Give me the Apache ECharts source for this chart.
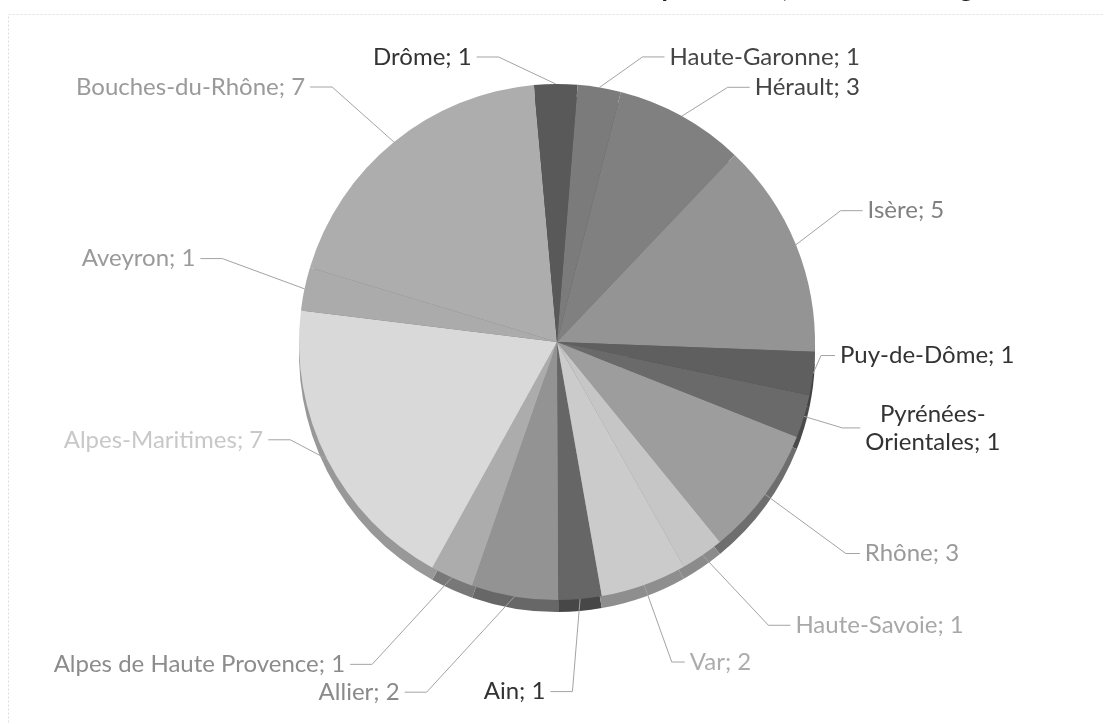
<!DOCTYPE html>
<html><head><meta charset="utf-8">
<script src="https://cdn.jsdelivr.net/npm/echarts@6/dist/echarts.min.js"></script>
<style>html,body{margin:0;padding:0;background:#fff;}#c{width:1104px;height:724px;}</style>
</head><body><div id="c"></div>
<script>
// ---- data ----
const departments = ['Ain','Allier','Alpes de Haute Provence','Alpes-Maritimes','Aveyron','Bouches-du-Rhône','Drôme','Haute-Garonne','Hérault','Isère','Puy-de-Dôme','Pyrénées-Orientales','Rhône','Haute-Savoie','Var'];
const counts = [1,2,1,7,1,7,1,1,3,5,1,1,3,1,2];
const titleText = 'Département, nombre de stagiaires';

// ---- styling ----
const sliceColors = ['#666666','#939393','#acacac','#d9d9d9','#ababab','#adadad','#595959','#7b7b7b','#808080','#949494','#5f5f5f','#6a6a6a','#9d9d9d','#c6c6c6','#cbcbcb'];
const labelColors = ['#333333','#8a8a8a','#8c8c8c','#c8c8c8','#9a9a9a','#9a9a9a','#333333','#444444','#444444','#808080','#333333','#333333','#9a9a9a','#a8a8a8','#acacac'];
const lineLen  = [93,97,95,10,40,71,27,31,33,45,8,40,100,85,82];
const lineLen2 = [38,94,63,50,65,39,79,60,52,25,14,18,14,40,13];
const nudgeY   = [0,0,0,-24,-22,0,0,0,0,-17,-19,0,0,0,0];
const flipLeft = [true,false,false,false,false,false,true,false,false,false,false,false,false,false,false];
const wrapLabel = [false,false,false,false,false,false,false,false,false,false,false,true,false,false,false];
const stubLen = 22;

function darken(hex, f) {
  const v = parseInt(hex.slice(1), 16);
  const r = Math.round(((v >> 16) & 255) * f), g = Math.round(((v >> 8) & 255) * f), b = Math.round((v & 255) * f);
  return 'rgb(' + r + ',' + g + ',' + b + ')';
}

const chart = echarts.init(document.getElementById('c'), null, {renderer:'canvas'});
const center = [557, 342];
const radius = 258;
const startAngle = -80;

const topData = departments.map((n, i) => ({
  name: n, value: counts[i],
  itemStyle: { color: sliceColors[i] },
  label: { color: labelColors[i] },
  labelLine: { length: lineLen[i], length2: lineLen2[i] }
}));
const rimData = departments.map((n, i) => ({
  name: n, value: counts[i],
  itemStyle: { color: darken(sliceColors[i], 0.7) }
}));

chart.setOption({
  backgroundColor: '#ffffff',
  animation: false,
  graphic: [
    { type: 'rect', shape: { x: 8.5, y: 14.5, width: 1200, height: 800 }, style: { fill: 'none', stroke: '#dcdcdc', lineWidth: 1, lineDash: [2, 2] }, silent: true },
    { type: 'text', x: 628, y: -24, style: { text: titleText, font: 'bold 26px Lato', fill: '#222' }, silent: true }
  ],
  series: [
    {
      type: 'pie', center: [center[0], center[1] + 12], radius: radius, startAngle: startAngle,
      silent: true, label: { show: false }, labelLine: { show: false },
      itemStyle: { borderWidth: 0 }, emphasis: { disabled: true },
      data: rimData, z: 1
    },
    {
      type: 'pie', center: center, radius: radius, startAngle: startAngle,
      avoidLabelOverlap: false, minShowLabelAngle: 0, silent: true,
      itemStyle: { borderWidth: 0 }, emphasis: { disabled: true },
      label: {
        show: true, position: 'outside', fontFamily: 'Lato', fontSize: 24, lineHeight: 28,
        distanceToLabelLine: 5,
        formatter: p => (wrapLabel[p.dataIndex] ? p.name.replace('-', '-\n') : p.name) + '; ' + p.value
      },
      labelLine: { show: true, smooth: false, lineStyle: { color: '#a3a3a3', width: 1 } },
      labelLayout: function (p) {
        const i = p.dataIndex;
        const pts = p.labelLinePoints;
        if (!pts) return;
        const x2 = pts[1][0], y2 = pts[1][1];
        let x3 = pts[2][0];
        let right = x3 >= x2;
        if (flipLeft[i] && right) { x3 = x2 - (x3 - x2); right = false; }
        const y = y2 + nudgeY[i];
        const s = Math.min(stubLen, Math.abs(x3 - x2));
        const elbow = [right ? x3 - s : x3 + s, y];
        const w = p.labelRect.width;
        let x, align;
        if (wrapLabel[i]) { x = right ? x3 + 5 + w / 2 : x3 - 5 - w / 2; align = 'center'; }
        else { x = right ? x3 + 5 : x3 - 5; align = right ? 'left' : 'right'; }
        return { x: x, y: y, align: align, verticalAlign: 'middle', labelLinePoints: [pts[0], elbow, [x3, y]] };
      },
      data: topData, z: 2
    }
  ]
});
</script></body></html>
